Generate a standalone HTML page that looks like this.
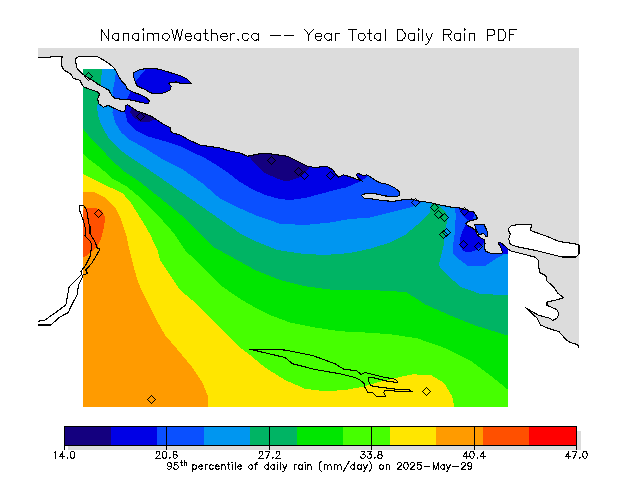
<!DOCTYPE html><html><head><meta charset="utf-8"><style>html,body{margin:0;padding:0;background:#fff;width:640px;height:480px;overflow:hidden}svg{display:block}body{font-family:"Liberation Sans",sans-serif}</style></head><body><svg width="640" height="480" viewBox="0 0 640 480" shape-rendering="crispEdges">
<defs><clipPath id="dc"><rect x="83" y="69" width="425" height="338"/></clipPath></defs>
<g clip-path="url(#dc)">
<rect x="0" y="0" width="640" height="480" fill="#0a50ff"/>
<polygon points="121.00,70.00 125.00,82.00 130.00,92.50 127.00,99.00 125.00,112.50 127.50,122.50 135.00,130.00 147.50,136.25 165.00,141.25 182.00,147.00 190.00,151.00 205.00,158.00 215.00,164.00 227.00,172.00 240.00,182.00 252.00,189.00 265.00,195.00 280.00,199.00 290.00,200.00 305.00,198.00 320.00,194.00 335.00,190.00 346.60,187.30 359.00,181.90 367.00,177.00 370.00,150.00 370.00,40.00 121.00,40.00" fill="#0000e6" />
<polygon points="116.00,60.00 116.00,71.00 115.00,80.00 112.50,92.50 113.00,100.00 112.50,112.50 115.00,122.50 121.25,132.50 130.00,140.00 145.00,148.00 160.80,158.30 181.70,168.75 202.50,183.30 219.20,197.90 240.00,208.30 255.00,215.00 280.00,223.75 305.00,225.00 330.00,222.50 350.00,219.00 370.00,217.50 390.00,212.50 410.00,207.50 420.00,203.75 425.00,195.00 520.00,195.00 520.00,420.00 70.00,420.00 70.00,60.00" fill="#0096f0" />
<polygon points="453.00,195.00 454.00,206.25 456.00,215.00 455.00,225.00 454.50,235.00 453.00,245.00 453.50,253.75 458.50,258.75 467.50,265.50 485.00,266.00 497.00,258.00 508.00,252.00 520.00,250.00 520.00,195.00" fill="#0a50ff" />
<polygon points="466.00,224.00 463.00,230.00 460.50,237.50 459.50,245.00 463.50,251.25 468.75,252.50 476.25,250.00 481.25,246.25 486.00,240.00 480.00,224.00" fill="#0000e6" />
<polygon points="458.00,205.00 458.75,208.75 462.50,215.00 467.50,220.00 472.00,221.00 476.00,210.00" fill="#0000e6" />
<polygon points="497.00,241.00 508.00,248.00 520.00,248.00 520.00,254.00 500.00,254.50 490.00,254.00" fill="#0000e6" />
<polygon points="102.00,60.00 102.00,69.00 100.00,92.50 97.00,107.50 98.75,118.75 103.75,130.00 110.00,140.00 120.00,150.00 132.50,158.75 140.00,163.50 160.80,178.00 181.70,192.50 202.50,207.00 219.20,218.75 240.00,233.30 252.50,240.00 277.50,250.00 302.50,253.75 325.00,255.00 350.00,253.00 370.00,248.75 390.00,242.50 405.00,235.00 420.00,222.50 430.00,212.00 431.25,205.00 433.00,195.00 437.00,195.00 437.50,204.40 443.75,210.00 447.50,215.00 446.90,222.50 445.00,230.00 443.75,245.00 440.00,260.00 439.00,265.00 440.00,267.50 450.00,277.50 460.50,286.80 479.40,293.55 498.40,294.90 520.00,295.00 520.00,420.00 70.00,420.00 70.00,60.00" fill="#00b464" />
<polygon points="70.00,120.00 83.00,128.75 90.00,137.50 100.00,147.50 112.50,161.00 125.00,172.00 140.00,182.00 160.80,198.50 181.70,215.50 198.30,231.50 215.00,248.00 230.00,256.00 255.00,270.00 280.00,280.00 305.00,286.25 330.00,289.50 355.00,290.50 370.00,290.00 390.00,291.00 406.30,292.20 425.20,304.40 449.60,315.20 476.70,326.00 508.00,335.60 520.00,339.00 520.00,420.00 70.00,420.00" fill="#00e600" />
<polygon points="70.00,145.00 83.00,153.75 90.00,160.00 100.00,167.50 112.50,178.50 127.50,187.00 140.00,197.50 156.70,214.00 173.30,232.50 185.80,251.00 190.00,255.00 205.00,270.00 220.00,285.00 240.00,298.75 255.00,307.50 270.00,315.00 290.00,322.50 315.00,327.50 340.00,331.25 365.00,332.50 390.00,334.20 417.10,338.30 444.20,347.75 471.30,361.30 493.00,377.60 508.00,389.75 520.00,400.00 520.00,420.00 70.00,420.00" fill="#46ff00" />
<polygon points="70.00,168.00 83.00,173.75 92.50,178.75 105.00,185.00 122.50,193.00 131.00,203.00 138.50,215.00 141.00,218.75 149.50,233.30 157.50,250.00 160.00,260.00 170.00,275.00 180.00,290.00 195.00,302.50 210.00,317.50 225.00,332.50 240.00,347.50 250.00,355.00 265.00,367.50 285.00,380.00 305.00,388.75 325.00,391.25 345.00,390.00 362.50,386.90 375.00,383.10 387.50,380.00 400.00,376.90 412.50,374.40 430.65,374.85 444.20,383.00 452.30,396.50 455.00,410.00 70.00,420.00" fill="#ffe600" />
<polygon points="70.00,192.00 83.00,192.00 95.00,192.50 105.00,197.50 115.00,207.50 121.25,220.00 126.25,235.00 130.00,252.50 133.75,267.50 137.50,280.00 141.25,290.00 147.50,302.50 155.00,317.50 165.00,335.00 180.00,352.50 192.50,367.50 202.50,382.50 207.50,395.00 208.75,410.00 70.00,420.00" fill="#ff9b00" />
<polygon points="70.00,210.00 83.00,210.00 86.70,208.30 93.30,207.50 101.70,210.00 105.00,216.70 104.20,226.70 101.70,236.70 97.50,246.70 91.70,251.70 86.70,255.80 83.00,257.50 70.00,258.00" fill="#ff5000" />
<polygon points="132.00,108.00 140.00,111.00 150.00,115.00 156.00,119.00 150.00,121.50 140.00,121.50 134.00,118.00 130.00,112.00" fill="#14007f" />
<polygon points="248.00,150.00 248.75,156.25 255.00,164.00 265.00,173.00 277.50,178.75 285.00,181.00 290.00,180.50 300.00,177.00 307.50,170.00 311.00,165.00 311.00,150.00" fill="#14007f" />
</g>
<path d="M38.00,48.00 L579.00,48.00 L579.00,348.00 L577.70,344.70 L570.00,342.50 L565.60,339.20 L559.00,331.60 L548.10,328.30 L540.50,325.00 L537.20,318.40 L531.70,313.00 L525.20,307.50 L532.80,311.90 L538.30,315.20 L550.30,318.40 L552.50,320.60 L556.90,318.40 L559.00,314.00 L556.90,309.70 L547.00,305.30 L547.00,302.00 L556.90,299.80 L563.40,297.70 L558.00,293.30 L553.60,286.70 L547.00,281.25 L545.90,275.80 L539.40,272.50 L538.30,260.50 L535.00,257.20 L525.00,254.50 L510.30,250.80 L508.00,249.00 L503.75,245.00 L500.00,242.50 L498.10,243.10 L499.40,245.00 L501.25,248.75 L502.50,252.50 L501.25,253.75 L495.00,253.75 L490.00,253.10 L485.60,251.25 L484.40,247.50 L485.00,243.75 L484.40,240.00 L481.25,238.10 L477.50,235.00 L475.60,230.60 L472.50,228.10 L466.90,225.00 L465.60,223.10 L468.75,221.25 L473.75,220.00 L477.50,218.75 L476.25,215.60 L473.10,211.25 L470.60,211.90 L467.50,210.00 L465.00,209.40 L460.00,208.10 L450.00,206.90 L440.00,205.00 L437.50,204.40 L430.00,202.50 L420.00,201.25 L411.25,199.00 L402.80,199.80 L393.40,201.40 L382.50,200.60 L373.10,199.00 L364.50,198.30 L361.40,195.20 L365.30,193.60 L374.70,193.60 L385.60,196.00 L396.60,196.70 L399.70,195.20 L399.70,192.00 L395.00,188.10 L387.20,184.20 L379.40,182.70 L373.10,178.75 L366.90,174.80 L363.75,175.60 L357.50,173.30 L356.00,174.80 L359.00,178.75 L362.20,181.10 L357.50,179.50 L351.25,177.20 L343.40,174.80 L338.75,177.20 L335.60,174.00 L332.50,169.40 L326.25,166.25 L320.00,167.00 L315.00,167.50 L307.50,166.25 L297.50,161.25 L287.50,156.25 L270.00,153.75 L260.00,153.75 L247.50,156.25 L240.00,153.00 L230.00,151.00 L220.00,148.00 L200.00,145.00 L190.00,140.50 L180.00,135.00 L171.25,132.50 L170.00,127.50 L162.50,123.75 L155.00,118.75 L151.25,116.25 L145.00,113.75 L137.50,111.25 L132.50,108.10 L127.80,104.80 L125.00,105.80 L125.90,108.10 L124.00,111.90 L120.30,110.90 L113.75,108.10 L108.10,105.30 L103.40,107.20 L98.30,103.40 L97.80,98.75 L99.70,94.00 L97.50,91.90 L90.00,89.40 L83.75,86.90 L81.25,83.75 L80.60,80.60 L76.90,79.40 L73.10,78.10 L71.25,74.40 L67.50,71.90 L63.75,70.00 L61.90,66.25 L61.25,58.75 L62.50,56.50 L50.60,56.50 L50.60,57.50 L38.00,57.50 Z M80.00,56.50 L96.90,56.50 L102.50,59.40 L110.00,64.40 L113.75,67.50 L116.25,71.25 L118.75,76.90 L121.90,81.25 L125.60,85.00 L126.90,88.75 L132.50,91.90 L141.25,95.00 L146.90,98.10 L149.40,101.25 L148.10,103.75 L141.25,102.50 L132.50,100.20 L122.20,99.20 L115.60,98.75 L111.90,96.00 L109.00,90.30 L98.75,84.70 L91.25,79.50 L83.75,75.00 L80.00,71.25 L76.90,68.10 L75.60,61.25 L76.25,57.50 Z M133.75,72.50 L138.75,70.00 L146.25,68.50 L152.50,68.10 L160.00,69.40 L170.00,72.50 L180.00,75.60 L187.50,79.40 L191.25,83.10 L180.00,83.10 L176.25,81.90 L170.00,82.50 L168.75,83.75 L171.25,86.25 L170.00,90.00 L165.00,92.50 L160.00,93.75 L153.75,93.75 L148.75,91.90 L145.00,89.40 L137.50,86.25 L135.60,82.50 L133.75,77.50 Z M474.40,224.40 L484.00,224.40 L485.60,227.50 L487.50,232.50 L488.00,236.25 L486.00,236.25 L483.75,233.75 L478.75,234.40 L476.25,230.00 Z" fill="#dcdcdc" fill-rule="evenodd" stroke="none"/>
<clipPath id="lk"><polygon points="133.75,72.50 138.75,70.00 146.25,68.50 152.50,68.10 160.00,69.40 170.00,72.50 180.00,75.60 187.50,79.40 191.25,83.10 180.00,83.10 176.25,81.90 170.00,82.50 168.75,83.75 171.25,86.25 170.00,90.00 165.00,92.50 160.00,93.75 153.75,93.75 148.75,91.90 145.00,89.40 137.50,86.25 135.60,82.50 133.75,77.50"/></clipPath>
<polygon points="130.00,66.00 146.00,66.00 145.25,69.75 136.25,80.60 130.00,84.00" fill="#0a50ff" clip-path="url(#lk)"/>
<polygon points="474.40,224.40 484.00,224.40 485.60,227.50 487.50,232.50 488.00,236.25 486.00,236.25 483.75,233.75 478.75,234.40 476.25,230.00" fill="#0a50ff"/>
<polygon points="508.00,229.00 511.00,225.80 515.00,225.00 531.40,224.20 530.60,230.50 536.90,232.80 547.80,236.70 558.75,241.40 579.00,244.50 579.00,254.00 575.90,257.00 561.90,257.00 549.40,253.90 533.75,250.00 518.10,246.90 510.30,244.50 508.75,239.00 510.30,234.40" fill="#ffffff"/>
<path d="M579.00,348.00 L577.70,344.70 L570.00,342.50 L565.60,339.20 L559.00,331.60 L548.10,328.30 L540.50,325.00 L537.20,318.40 L531.70,313.00 L525.20,307.50 L532.80,311.90 L538.30,315.20 L550.30,318.40 L552.50,320.60 L556.90,318.40 L559.00,314.00 L556.90,309.70 L547.00,305.30 L547.00,302.00 L556.90,299.80 L563.40,297.70 L558.00,293.30 L553.60,286.70 L547.00,281.25 L545.90,275.80 L539.40,272.50 L538.30,260.50 L535.00,257.20 L525.00,254.50 L510.30,250.80 L508.00,249.00 L503.75,245.00 L500.00,242.50 L498.10,243.10 L499.40,245.00 L501.25,248.75 L502.50,252.50 L501.25,253.75 L495.00,253.75 L490.00,253.10 L485.60,251.25 L484.40,247.50 L485.00,243.75 L484.40,240.00 L481.25,238.10 L477.50,235.00 L475.60,230.60 L472.50,228.10 L466.90,225.00 L465.60,223.10 L468.75,221.25 L473.75,220.00 L477.50,218.75 L476.25,215.60 L473.10,211.25 L470.60,211.90 L467.50,210.00 L465.00,209.40 L460.00,208.10 L450.00,206.90 L440.00,205.00 L437.50,204.40 L430.00,202.50 L420.00,201.25 L411.25,199.00 L402.80,199.80 L393.40,201.40 L382.50,200.60 L373.10,199.00 L364.50,198.30 L361.40,195.20 L365.30,193.60 L374.70,193.60 L385.60,196.00 L396.60,196.70 L399.70,195.20 L399.70,192.00 L395.00,188.10 L387.20,184.20 L379.40,182.70 L373.10,178.75 L366.90,174.80 L363.75,175.60 L357.50,173.30 L356.00,174.80 L359.00,178.75 L362.20,181.10 L357.50,179.50 L351.25,177.20 L343.40,174.80 L338.75,177.20 L335.60,174.00 L332.50,169.40 L326.25,166.25 L320.00,167.00 L315.00,167.50 L307.50,166.25 L297.50,161.25 L287.50,156.25 L270.00,153.75 L260.00,153.75 L247.50,156.25 L240.00,153.00 L230.00,151.00 L220.00,148.00 L200.00,145.00 L190.00,140.50 L180.00,135.00 L171.25,132.50 L170.00,127.50 L162.50,123.75 L155.00,118.75 L151.25,116.25 L145.00,113.75 L137.50,111.25 L132.50,108.10 L127.80,104.80 L125.00,105.80 L125.90,108.10 L124.00,111.90 L120.30,110.90 L113.75,108.10 L108.10,105.30 L103.40,107.20 L98.30,103.40 L97.80,98.75 L99.70,94.00 L97.50,91.90 L90.00,89.40 L83.75,86.90 L81.25,83.75 L80.60,80.60 L76.90,79.40 L73.10,78.10 L71.25,74.40 L67.50,71.90 L63.75,70.00 L61.90,66.25 L61.25,58.75 L62.50,56.50 L50.60,56.50 L50.60,57.50 L38.00,57.50 M80.00,56.50 L96.90,56.50 L102.50,59.40 L110.00,64.40 L113.75,67.50 L116.25,71.25 L118.75,76.90 L121.90,81.25 L125.60,85.00 L126.90,88.75 L132.50,91.90 L141.25,95.00 L146.90,98.10 L149.40,101.25 L148.10,103.75 L141.25,102.50 L132.50,100.20 L122.20,99.20 L115.60,98.75 L111.90,96.00 L109.00,90.30 L98.75,84.70 L91.25,79.50 L83.75,75.00 L80.00,71.25 L76.90,68.10 L75.60,61.25 L76.25,57.50 Z M133.75,72.50 L138.75,70.00 L146.25,68.50 L152.50,68.10 L160.00,69.40 L170.00,72.50 L180.00,75.60 L187.50,79.40 L191.25,83.10 L180.00,83.10 L176.25,81.90 L170.00,82.50 L168.75,83.75 L171.25,86.25 L170.00,90.00 L165.00,92.50 L160.00,93.75 L153.75,93.75 L148.75,91.90 L145.00,89.40 L137.50,86.25 L135.60,82.50 L133.75,77.50 Z M474.40,224.40 L484.00,224.40 L485.60,227.50 L487.50,232.50 L488.00,236.25 L486.00,236.25 L483.75,233.75 L478.75,234.40 L476.25,230.00 Z M579.00,244.50 L579.00,254.00 L575.90,257.00 L561.90,257.00 L549.40,253.90 L533.75,250.00 L518.10,246.90 L510.30,244.50 L508.75,239.00 L510.30,234.40 L508.00,229.00 L511.00,225.80 L515.00,225.00 L531.40,224.20 L530.60,230.50 L536.90,232.80 L547.80,236.70 L558.75,241.40 L579.00,244.50" fill="none" stroke="#000" stroke-width="1.1" stroke-linejoin="round"/>
<path d="M38.00,321.30 L45.00,320.00 L56.70,311.70 L65.80,305.00 L69.20,286.70 L75.00,280.80 L81.70,274.20 L80.80,271.70 L85.80,265.00 L90.00,256.70 L91.70,246.70 L90.80,241.70 L85.00,235.80 L85.80,230.00 L83.30,220.00 L80.00,211.70 L79.20,205.80 L83.30,205.30 L85.80,208.30 L87.50,213.30 L88.30,221.70 L90.00,226.70 L90.00,233.30 L95.80,243.30 L96.70,247.50 L100.00,249.20 L96.70,255.00 L91.70,263.30 L85.80,270.00 L87.50,273.30 L83.30,275.00 L78.30,285.80 L77.50,294.20 L70.00,308.30 L68.30,312.50 L59.20,317.50 L50.80,325.00 L38.00,325.00" fill="none" stroke="#000" stroke-width="1.1" stroke-linejoin="round"/>
<polygon points="250.00,349.25 265.00,349.50 285.00,350.00 312.50,355.50 335.00,363.75 343.75,369.25 356.25,370.60 361.25,374.40 365.00,372.50 375.00,375.00 385.00,377.50 393.75,378.75 396.90,380.60 397.50,382.50 387.50,381.25 380.00,379.40 372.50,377.50 368.10,377.50 368.75,381.25 370.60,385.60 377.50,386.90 387.50,388.10 397.50,389.40 408.75,389.40 412.50,391.90 402.50,391.90 391.25,390.60 385.00,390.60 383.75,392.50 385.60,396.25 376.25,396.25 372.50,392.50 368.10,392.50 365.00,387.50 364.40,383.75 360.00,380.00 355.00,377.50 340.00,373.75 315.00,369.50 292.50,363.75 285.00,357.50" fill="none" stroke="#000" stroke-width="1.1" stroke-linejoin="round"/>
<polygon points="88.5,72.5 92.5,76.5 88.5,80.5 84.5,76.5" fill="none" stroke="#000" stroke-width="1"/>
<polygon points="140.5,112.5 144.5,116.5 140.5,120.5 136.5,116.5" fill="none" stroke="#000" stroke-width="1"/>
<polygon points="271.5,156.5 275.5,160.5 271.5,164.5 267.5,160.5" fill="none" stroke="#000" stroke-width="1"/>
<polygon points="298.5,167.5 302.5,171.5 298.5,175.5 294.5,171.5" fill="none" stroke="#000" stroke-width="1"/>
<polygon points="304.5,171.5 308.5,175.5 304.5,179.5 300.5,175.5" fill="none" stroke="#000" stroke-width="1"/>
<polygon points="330.5,171.5 334.5,175.5 330.5,179.5 326.5,175.5" fill="none" stroke="#000" stroke-width="1"/>
<polygon points="415.5,198.5 419.5,202.5 415.5,206.5 411.5,202.5" fill="none" stroke="#000" stroke-width="1"/>
<polygon points="434.5,203.5 438.5,207.5 434.5,211.5 430.5,207.5" fill="none" stroke="#000" stroke-width="1"/>
<polygon points="438.5,210.5 442.5,214.5 438.5,218.5 434.5,214.5" fill="none" stroke="#000" stroke-width="1"/>
<polygon points="444.5,213.5 448.5,217.5 444.5,221.5 440.5,217.5" fill="none" stroke="#000" stroke-width="1"/>
<polygon points="443.5,230.5 447.5,234.5 443.5,238.5 439.5,234.5" fill="none" stroke="#000" stroke-width="1"/>
<polygon points="446.5,228.5 450.5,232.5 446.5,236.5 442.5,232.5" fill="none" stroke="#000" stroke-width="1"/>
<polygon points="464.5,207.5 468.5,211.5 464.5,215.5 460.5,211.5" fill="none" stroke="#000" stroke-width="1"/>
<polygon points="463.5,240.5 467.5,244.5 463.5,248.5 459.5,244.5" fill="none" stroke="#000" stroke-width="1"/>
<polygon points="478.5,242.5 482.5,246.5 478.5,250.5 474.5,246.5" fill="none" stroke="#000" stroke-width="1"/>
<polygon points="98.5,209.5 102.5,213.5 98.5,217.5 94.5,213.5" fill="none" stroke="#000" stroke-width="1"/>
<polygon points="151.5,395.5 155.5,399.5 151.5,403.5 147.5,399.5" fill="none" stroke="#000" stroke-width="1"/>
<polygon points="426.5,387.5 430.5,391.5 426.5,395.5 422.5,391.5" fill="none" stroke="#000" stroke-width="1"/>
<rect x="68" y="431" width="513" height="19" fill="#dcdcdc"/>
<rect x="64.00" y="426" width="47.05" height="19" fill="#14007f"/>
<rect x="110.55" y="426" width="47.05" height="19" fill="#0000e6"/>
<rect x="157.09" y="426" width="47.05" height="19" fill="#0a50ff"/>
<rect x="203.64" y="426" width="47.05" height="19" fill="#0096f0"/>
<rect x="250.18" y="426" width="47.05" height="19" fill="#00b464"/>
<rect x="296.73" y="426" width="47.05" height="19" fill="#00e600"/>
<rect x="343.27" y="426" width="47.05" height="19" fill="#46ff00"/>
<rect x="389.82" y="426" width="47.05" height="19" fill="#ffe600"/>
<rect x="436.36" y="426" width="47.05" height="19" fill="#ff9b00"/>
<rect x="482.91" y="426" width="47.05" height="19" fill="#ff5000"/>
<rect x="529.45" y="426" width="47.05" height="19" fill="#ff0000"/>
<rect x="64.5" y="426.5" width="512" height="19" fill="none" stroke="#000" stroke-width="1"/>
<line x1="64.5" y1="426" x2="64.5" y2="450" stroke="#000" stroke-width="1"/>
<line x1="166.5" y1="426" x2="166.5" y2="450" stroke="#000" stroke-width="1"/>
<line x1="269.5" y1="426" x2="269.5" y2="450" stroke="#000" stroke-width="1"/>
<line x1="371.5" y1="426" x2="371.5" y2="450" stroke="#000" stroke-width="1"/>
<line x1="474.5" y1="426" x2="474.5" y2="450" stroke="#000" stroke-width="1"/>
<line x1="576.5" y1="426" x2="576.5" y2="450" stroke="#000" stroke-width="1"/>
<path d="M418 28h1v1h-1zM464 28h1v1h-1zM143 28h1v1h-1zM443 29h7v1h-7zM509 29h8v1h-8zM142 29h2v1h-2zM418 29h2v1h-2zM498 29h6v1h-6zM464 29h2v1h-2zM397 29h6v1h-6zM101 29h1v1h-1zM348 29h9v1h-9zM304 29h1v1h-1zM313 29h1v1h-1zM487 29h7v1h-7zM171 29h1v1h-1zM177 29h1v1h-1zM402 30h1v1h-1zM182 29h1v2h-1zM312 30h1v1h-1zM450 30h1v1h-1zM143 30h1v1h-1zM418 30h1v1h-1zM493 30h2v1h-2zM464 30h1v1h-1zM503 30h1v1h-1zM305 30h1v1h-1zM306 31h1v1h-1zM101 30h2v2h-2zM311 31h1v1h-1zM403 31h1v1h-1zM504 31h1v1h-1zM205 29h1v4h-1zM211 29h1v4h-1zM176 30h2v3h-2zM404 32h1v1h-1zM451 31h1v2h-1zM103 32h1v1h-1zM369 29h1v4h-1zM310 32h1v1h-1zM443 30h1v4h-1zM409 33h6v1h-6zM494 31h1v3h-1zM164 33h4v1h-4zM243 33h5v1h-5zM367 33h5v1h-5zM376 33h5v1h-5zM404 33h2v1h-2zM232 33h3v1h-3zM307 32h1v2h-1zM509 30h1v4h-1zM203 33h5v1h-5zM222 33h5v1h-5zM134 33h5v1h-5zM359 33h5v1h-5zM432 33h1v1h-1zM450 33h1v1h-1zM331 33h1v1h-1zM123 33h6v1h-6zM186 33h5v1h-5zM230 33h1v1h-1zM253 33h4v1h-4zM326 33h4v1h-4zM154 33h5v1h-5zM258 33h1v1h-1zM309 33h1v1h-1zM147 33h6v1h-6zM211 33h6v1h-6zM114 33h5v1h-5zM172 30h1v4h-1zM316 33h5v1h-5zM196 33h5v1h-5zM469 33h6v1h-6zM455 33h6v1h-6zM335 33h5v1h-5zM163 34h1v1h-1zM257 34h2v1h-2zM330 34h2v1h-2zM509 34h5v1h-5zM375 34h1v1h-1zM152 34h2v1h-2zM104 33h1v2h-1zM113 34h1v1h-1zM252 34h1v1h-1zM308 34h2v1h-2zM325 34h1v1h-1zM230 34h2v1h-2zM133 34h1v1h-1zM248 34h1v1h-1zM216 34h1v1h-1zM493 34h2v1h-2zM487 30h1v5h-1zM221 34h1v1h-1zM226 34h1v1h-1zM443 34h8v1h-8zM190 34h1v1h-1zM176 33h1v2h-1zM195 34h1v1h-1zM168 34h1v1h-1zM270 35h11v1h-11zM315 34h1v2h-1zM191 35h1v1h-1zM321 34h1v2h-1zM105 35h1v1h-1zM426 33h1v3h-1zM220 35h1v1h-1zM284 35h10v1h-10zM185 34h1v2h-1zM364 34h1v2h-1zM181 31h1v5h-1zM227 35h1v1h-1zM487 35h6v1h-6zM315 36h7v1h-7zM220 36h8v1h-8zM178 33h1v4h-1zM431 34h1v3h-1zM185 36h7v1h-7zM405 34h1v3h-1zM180 36h1v1h-1zM448 35h1v2h-1zM108 29h1v9h-1zM324 35h1v3h-1zM173 34h1v4h-1zM169 35h1v3h-1zM251 35h1v3h-1zM132 35h1v3h-1zM449 37h1v1h-1zM427 36h1v2h-1zM220 37h1v1h-1zM505 32h1v6h-1zM106 36h1v2h-1zM404 37h1v1h-1zM175 35h1v3h-1zM194 35h1v3h-1zM162 35h1v3h-1zM112 35h1v3h-1zM365 36h1v2h-1zM374 35h1v3h-1zM200 34h1v5h-1zM315 37h1v2h-1zM118 34h1v5h-1zM191 38h1v1h-1zM242 34h1v5h-1zM252 38h1v1h-1zM325 38h1v1h-1zM380 34h1v5h-1zM430 37h1v2h-1zM205 34h1v5h-1zM504 38h1v1h-1zM408 34h1v5h-1zM321 38h1v1h-1zM162 38h2v1h-2zM194 38h2v1h-2zM107 38h2v1h-2zM358 34h1v5h-1zM454 34h1v5h-1zM248 38h1v1h-1zM112 38h2v1h-2zM138 34h1v5h-1zM331 35h1v4h-1zM374 38h2v1h-2zM221 38h1v1h-1zM185 37h1v2h-1zM258 35h1v4h-1zM460 34h1v5h-1zM364 38h1v1h-1zM428 38h1v1h-1zM414 34h1v5h-1zM227 38h1v1h-1zM403 38h2v1h-2zM132 38h2v1h-2zM174 38h2v1h-2zM168 38h1v1h-1zM137 39h2v1h-2zM402 39h1v1h-1zM413 39h2v1h-2zM397 30h1v10h-1zM164 39h1v1h-1zM320 39h1v1h-1zM459 39h2v1h-2zM179 37h2v3h-2zM114 39h1v1h-1zM196 39h1v1h-1zM316 39h1v1h-1zM247 39h1v1h-1zM243 39h1v1h-1zM428 39h2v1h-2zM376 39h1v1h-1zM199 39h2v1h-2zM256 39h3v1h-3zM329 39h3v1h-3zM363 39h1v1h-1zM450 38h1v2h-1zM117 39h2v1h-2zM253 39h1v1h-1zM326 39h1v1h-1zM455 39h1v1h-1zM409 39h1v1h-1zM226 39h1v1h-1zM379 39h2v1h-2zM237 39h2v1h-2zM222 39h1v1h-1zM134 39h1v1h-1zM359 39h1v1h-1zM190 39h1v1h-1zM167 39h1v1h-1zM369 34h1v6h-1zM186 39h1v1h-1zM498 30h1v10h-1zM205 39h2v1h-2zM503 39h1v1h-1zM443 35h1v6h-1zM108 39h1v2h-1zM254 40h3v1h-3zM207 40h2v1h-2zM352 30h1v11h-1zM498 40h6v1h-6zM123 34h1v7h-1zM187 40h4v1h-4zM197 40h4v1h-4zM238 40h1v1h-1zM335 34h1v7h-1zM128 34h1v7h-1zM174 39h1v2h-1zM223 40h3v1h-3zM385 29h1v12h-1zM410 40h5v1h-5zM456 40h5v1h-5zM509 35h1v6h-1zM147 34h1v7h-1zM211 34h1v7h-1zM422 29h1v12h-1zM397 40h6v1h-6zM101 32h1v9h-1zM143 33h1v8h-1zM377 40h4v1h-4zM418 33h1v8h-1zM331 40h1v1h-1zM179 40h1v1h-1zM244 40h4v1h-4zM469 34h1v7h-1zM308 35h1v6h-1zM115 40h4v1h-4zM487 36h1v5h-1zM464 33h1v8h-1zM230 35h1v6h-1zM317 40h4v1h-4zM474 34h1v7h-1zM258 40h1v1h-1zM370 40h2v1h-2zM451 40h1v1h-1zM165 40h3v1h-3zM217 35h1v6h-1zM360 40h4v1h-4zM135 40h4v1h-4zM153 35h1v6h-1zM429 40h1v1h-1zM158 34h1v7h-1zM327 40h3v1h-3zM428 41h1v2h-1zM427 43h1v1h-1zM425 44h2v1h-2zM470 451h4v1h-4zM361 451h4v1h-4zM55 451h1v1h-1zM71 451h3v1h-3zM276 451h4v1h-4zM265 451h5v1h-5zM173 451h4v1h-4zM259 451h4v1h-4zM367 451h5v1h-5zM378 451h4v1h-4zM163 451h3v1h-3zM156 451h4v1h-4zM483 451h1v1h-1zM572 451h5v1h-5zM583 451h4v1h-4zM466 451h1v1h-1zM370 452h1v1h-1zM482 452h2v1h-2zM269 452h1v1h-1zM568 451h1v2h-1zM465 452h2v1h-2zM583 452h1v1h-1zM473 452h1v1h-1zM364 452h1v1h-1zM470 452h1v1h-1zM176 452h1v1h-1zM54 452h2v1h-2zM62 451h1v2h-1zM576 452h1v1h-1zM586 452h1v1h-1zM173 452h1v2h-1zM473 453h2v1h-2zM381 452h1v2h-1zM156 452h1v2h-1zM61 453h2v1h-2zM369 453h2v1h-2zM481 453h3v1h-3zM363 453h1v1h-1zM276 452h1v2h-1zM567 453h2v1h-2zM586 453h2v1h-2zM378 452h1v2h-1zM259 452h1v2h-1zM464 453h3v1h-3zM566 454h3v1h-3zM159 452h1v3h-1zM173 454h4v1h-4zM481 454h1v1h-1zM369 454h3v1h-3zM279 452h1v3h-1zM262 452h1v3h-1zM464 454h1v1h-1zM362 454h3v1h-3zM268 453h1v2h-1zM60 454h3v1h-3zM575 453h1v2h-1zM378 454h4v1h-4zM381 455h2v1h-2zM574 455h2v1h-2zM480 455h1v1h-1zM377 455h2v1h-2zM261 455h1v1h-1zM582 453h1v3h-1zM568 455h1v1h-1zM463 455h1v1h-1zM587 454h1v2h-1zM267 455h2v1h-2zM60 455h1v1h-1zM176 455h2v1h-2zM469 453h1v3h-1zM474 454h1v2h-1zM483 454h1v2h-1zM566 455h1v1h-1zM278 455h1v1h-1zM62 455h1v1h-1zM158 455h1v1h-1zM466 454h1v2h-1zM463 456h8v1h-8zM260 456h1v1h-1zM371 455h1v2h-1zM574 456h1v1h-1zM480 456h6v1h-6zM377 456h1v1h-1zM74 452h1v5h-1zM382 456h1v1h-1zM157 456h1v1h-1zM166 452h1v5h-1zM267 456h1v1h-1zM162 452h1v5h-1zM59 456h6v1h-6zM70 452h1v5h-1zM277 456h1v1h-1zM360 456h1v1h-1zM582 456h2v1h-2zM365 455h1v2h-1zM565 456h6v1h-6zM177 456h1v1h-1zM73 457h2v1h-2zM266 457h2v1h-2zM165 457h2v1h-2zM173 455h1v3h-1zM377 457h2v1h-2zM579 457h2v1h-2zM162 457h2v1h-2zM381 457h1v1h-1zM156 457h1v1h-1zM583 457h1v1h-1zM473 456h1v2h-1zM367 456h1v2h-1zM70 457h2v1h-2zM360 457h2v1h-2zM272 457h2v1h-2zM276 457h1v1h-1zM374 457h2v1h-2zM370 457h2v1h-2zM364 457h1v1h-1zM470 457h1v1h-1zM176 457h1v1h-1zM169 457h2v1h-2zM259 457h1v1h-1zM573 457h2v1h-2zM586 456h1v2h-1zM67 457h1v2h-1zM258 458h6v1h-6zM169 458h1v1h-1zM477 457h1v2h-1zM573 458h1v1h-1zM568 457h1v2h-1zM55 453h1v6h-1zM71 458h3v1h-3zM266 458h1v1h-1zM361 458h3v1h-3zM163 458h3v1h-3zM584 458h2v1h-2zM579 458h1v1h-1zM155 458h6v1h-6zM483 457h1v2h-1zM275 458h6v1h-6zM471 458h2v1h-2zM272 458h1v1h-1zM378 458h4v1h-4zM374 458h1v1h-1zM62 457h1v2h-1zM174 458h2v1h-2zM368 458h3v1h-3zM466 457h1v2h-1zM320 461h2v1h-2zM369 461h1v1h-1zM348 461h2v1h-2zM184 460h1v2h-1zM181 460h1v2h-1zM417 462h5v1h-5zM180 462h3v1h-3zM348 462h1v1h-1zM411 462h3v1h-3zM174 462h4v1h-4zM168 462h3v1h-3zM231 462h2v1h-2zM304 462h2v1h-2zM398 462h3v1h-3zM462 462h3v1h-3zM404 462h4v1h-4zM319 462h2v1h-2zM277 462h1v1h-1zM256 462h2v1h-2zM468 462h3v1h-3zM438 462h1v1h-1zM184 462h3v1h-3zM370 462h1v2h-1zM407 463h1v1h-1zM228 462h1v2h-1zM170 463h2v1h-2zM417 463h1v1h-1zM174 463h1v1h-1zM354 462h1v2h-1zM404 463h1v1h-1zM268 462h1v2h-1zM347 463h2v1h-2zM255 463h2v1h-2zM467 463h2v1h-2zM361 464h1v1h-1zM347 464h1v1h-1zM397 463h1v2h-1zM239 464h2v1h-2zM302 464h1v1h-1zM358 464h2v1h-2zM272 464h3v1h-3zM216 464h2v1h-2zM442 464h3v1h-3zM467 464h1v1h-1zM227 464h3v1h-3zM299 464h2v1h-2zM417 464h4v1h-4zM307 464h4v1h-4zM324 464h3v1h-3zM367 464h1v1h-1zM352 464h3v1h-3zM450 464h1v1h-1zM221 464h4v1h-4zM205 464h3v1h-3zM334 464h3v1h-3zM174 464h3v1h-3zM192 464h3v1h-3zM200 464h2v1h-2zM250 464h2v1h-2zM410 463h1v2h-1zM465 463h1v2h-1zM266 464h3v1h-3zM181 463h1v2h-1zM254 464h4v1h-4zM407 464h2v1h-2zM414 463h1v2h-1zM294 464h3v1h-3zM329 464h2v1h-2zM401 463h1v2h-1zM386 464h3v1h-3zM433 462h1v3h-1zM210 464h2v1h-2zM282 464h1v1h-1zM380 464h2v1h-2zM339 464h2v1h-2zM461 463h1v2h-1zM192 465h2v1h-2zM201 465h2v1h-2zM464 465h2v1h-2zM307 465h2v1h-2zM353 465h2v1h-2zM413 465h2v1h-2zM471 463h1v3h-1zM265 465h1v1h-1zM437 463h2v3h-2zM221 465h2v1h-2zM212 465h2v1h-2zM238 465h1v1h-1zM224 465h1v1h-1zM327 465h2v1h-2zM382 465h2v1h-2zM174 465h1v1h-1zM400 465h2v1h-2zM240 465h2v1h-2zM330 465h1v1h-1zM417 465h1v1h-1zM267 465h2v1h-2zM181 465h2v1h-2zM271 465h1v1h-1zM360 465h2v1h-2zM273 465h2v1h-2zM337 465h2v1h-2zM363 464h1v2h-1zM420 465h2v1h-2zM195 465h2v1h-2zM340 465h1v1h-1zM441 465h1v1h-1zM446 464h1v2h-1zM209 465h2v1h-2zM184 463h1v3h-1zM249 465h1v1h-1zM379 465h2v1h-2zM443 465h2v1h-2zM171 464h1v2h-1zM301 465h2v1h-2zM366 465h2v1h-2zM286 464h1v2h-1zM199 465h1v1h-1zM167 463h1v3h-1zM467 465h2v1h-2zM186 463h1v3h-1zM218 465h1v1h-1zM357 465h2v1h-2zM251 465h2v1h-2zM351 465h1v1h-1zM310 465h1v1h-1zM449 465h2v1h-2zM215 465h2v1h-2zM177 465h1v1h-1zM298 465h2v1h-2zM168 466h4v1h-4zM283 465h1v2h-1zM285 466h2v1h-2zM366 466h1v1h-1zM424 466h6v1h-6zM447 466h1v1h-1zM403 464h1v3h-1zM198 466h5v1h-5zM408 465h1v2h-1zM449 466h1v1h-1zM468 466h4v1h-4zM463 466h2v1h-2zM364 466h1v1h-1zM237 466h5v1h-5zM346 465h1v2h-1zM412 466h2v1h-2zM452 466h7v1h-7zM399 466h2v1h-2zM215 466h5v1h-5zM361 466h1v2h-1zM209 466h1v2h-1zM379 466h1v2h-1zM444 466h1v2h-1zM364 467h3v1h-3zM173 467h1v1h-1zM237 467h1v1h-1zM302 466h1v2h-1zM471 467h1v1h-1zM274 466h1v2h-1zM178 466h1v2h-1zM196 466h1v2h-1zM252 466h1v2h-1zM357 466h1v2h-1zM383 466h1v2h-1zM421 466h1v2h-1zM215 467h1v1h-1zM270 466h1v2h-1zM192 466h1v2h-1zM440 466h1v2h-1zM447 467h3v1h-3zM298 466h1v2h-1zM283 467h3v1h-3zM436 466h1v2h-1zM248 466h1v2h-1zM433 465h2v3h-2zM354 466h1v2h-1zM411 467h2v1h-2zM198 467h1v1h-1zM345 467h1v1h-1zM268 466h1v2h-1zM171 467h1v1h-1zM350 466h1v2h-1zM398 467h2v1h-2zM462 467h2v1h-2zM264 466h1v2h-1zM403 467h2v1h-2zM192 468h2v1h-2zM201 468h2v1h-2zM284 468h2v1h-2zM353 468h2v1h-2zM407 467h1v2h-1zM228 465h1v4h-1zM265 468h1v1h-1zM212 468h2v1h-2zM238 468h1v1h-1zM382 468h2v1h-2zM417 467h1v2h-1zM240 468h2v1h-2zM371 464h1v5h-1zM364 468h2v1h-2zM267 468h2v1h-2zM410 468h2v1h-2zM470 468h2v1h-2zM271 468h1v1h-1zM360 468h2v1h-2zM170 468h1v1h-1zM218 468h2v1h-2zM273 468h2v1h-2zM195 468h2v1h-2zM404 468h1v1h-1zM420 468h2v1h-2zM461 468h2v1h-2zM447 468h2v1h-2zM468 468h1v1h-1zM209 468h2v1h-2zM177 468h1v1h-1zM249 468h1v1h-1zM379 468h2v1h-2zM397 468h2v1h-2zM443 468h2v1h-2zM301 468h2v1h-2zM173 468h2v1h-2zM199 468h1v1h-1zM167 468h1v1h-1zM441 468h1v1h-1zM435 468h2v1h-2zM357 468h2v1h-2zM251 468h2v1h-2zM344 468h2v1h-2zM351 468h1v1h-1zM215 468h2v1h-2zM298 468h2v1h-2zM370 469h1v1h-1zM324 465h1v5h-1zM255 465h1v5h-1zM239 469h2v1h-2zM311 466h1v4h-1zM272 469h3v1h-3zM435 469h1v1h-1zM442 469h3v1h-3zM389 465h1v5h-1zM205 465h1v5h-1zM334 465h1v5h-1zM344 469h1v1h-1zM192 469h4v1h-4zM410 469h5v1h-5zM307 466h1v4h-1zM229 469h1v1h-1zM405 469h2v1h-2zM294 465h1v5h-1zM358 469h4v1h-4zM352 469h3v1h-3zM305 464h1v6h-1zM386 465h1v5h-1zM280 462h1v8h-1zM210 469h3v1h-3zM225 466h1v4h-1zM331 466h1v4h-1zM299 469h4v1h-4zM380 469h3v1h-3zM235 462h1v8h-1zM461 469h5v1h-5zM327 466h1v4h-1zM221 466h1v4h-1zM174 469h3v1h-3zM200 469h2v1h-2zM168 469h2v1h-2zM250 469h2v1h-2zM266 469h3v1h-3zM397 469h5v1h-5zM277 464h1v6h-1zM341 466h1v4h-1zM433 468h1v2h-1zM337 466h1v4h-1zM216 469h3v1h-3zM418 469h3v1h-3zM468 469h3v1h-3zM365 469h1v1h-1zM438 466h1v4h-1zM319 463h1v7h-1zM448 469h1v1h-1zM232 464h1v6h-1zM320 470h1v1h-1zM284 469h1v2h-1zM369 470h2v1h-2zM343 470h2v1h-2zM447 470h1v1h-1zM364 470h1v1h-1zM282 471h2v1h-2zM343 471h1v1h-1zM192 470h1v2h-1zM321 471h1v1h-1zM369 471h1v1h-1zM363 471h2v1h-2zM446 471h2v1h-2z" fill="#000" shape-rendering="crispEdges"/>
</svg></body></html>
